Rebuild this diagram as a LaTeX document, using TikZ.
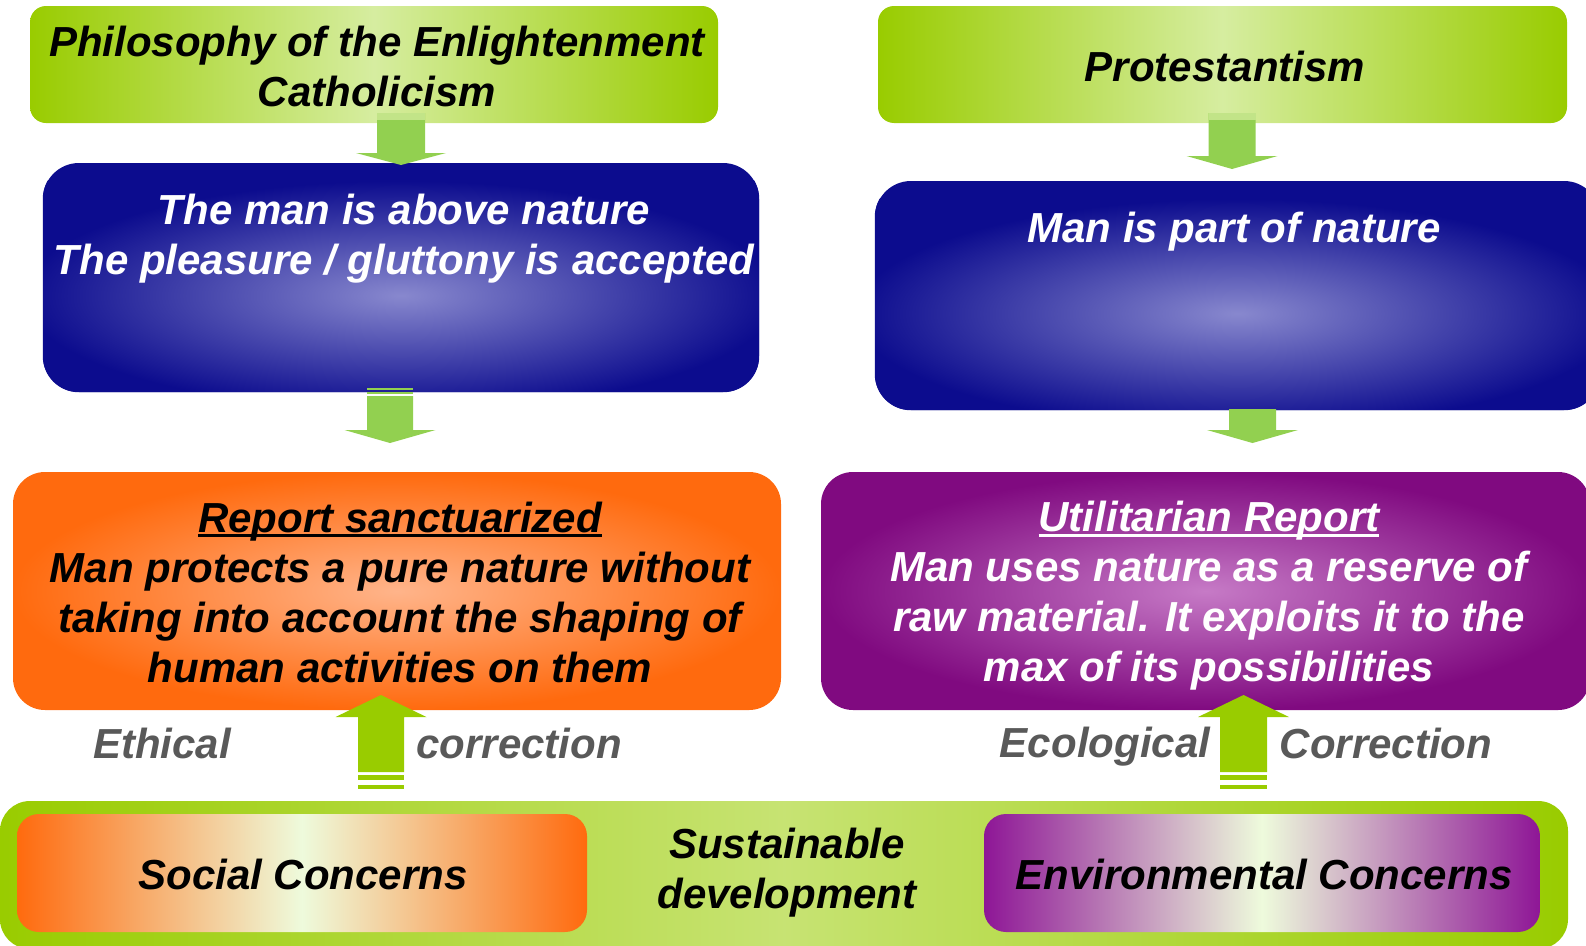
\documentclass[tikz,border=0pt]{standalone}
\usepackage{fontspec}
\setmainfont{Liberation Sans}
\usetikzlibrary{calc}

\definecolor{limeEdge}{HTML}{99CC00}
\definecolor{limeMid}{HTML}{D6EDA0}
\definecolor{arrowDown}{HTML}{92D050}
\definecolor{arrowUp}{HTML}{99CC00}
\definecolor{navyOut}{HTML}{0C0C8E}
\definecolor{navyIn}{HTML}{8888CE}
\definecolor{orangeOut}{HTML}{FF6A0E}
\definecolor{orangeIn}{HTML}{FFB48A}
\definecolor{plumOut}{HTML}{800A80}
\definecolor{plumIn}{HTML}{C67AC6}
\definecolor{paleMid}{HTML}{EEFBDC}
\definecolor{envEdge}{HTML}{8E1696}
\definecolor{labelGray}{HTML}{595959}

% underline drawn as a rule under the box of its argument
\newcommand\ulinetext[1]{{\setbox0\hbox{#1}\rlap{\rule[-5pt]{\wd0}{2.6pt}}\box0}}

% block arrow pointing down: x, shaft half width, head half width, top, head base, tip, colour
\newcommand\blockdown[7]{%
  \fill[#7] (#1-#2,#4) -- (#1+#2,#4) -- (#1+#2,#5) -- (#1+#3,#5) -- (#1,#6)
    -- (#1-#3,#5) -- (#1-#2,#5) -- cycle;}
% block arrow pointing up: x, shaft half width, head half width, bottom, head base, tip, colour
\newcommand\blockup[7]{%
  \fill[#7] (#1-#2,#4) -- (#1+#2,#4) -- (#1+#2,#5) -- (#1+#3,#5) -- (#1,#6)
    -- (#1-#3,#5) -- (#1-#2,#5) -- cycle;}
% blue glow inside a panel, centred a little below its middle
\newcommand\navyglow[1]{%
  \begin{scope}
    \clip[rounded corners=36pt] (#1.south west) rectangle (#1.north east);
    \shade[inner color=navyIn, outer color=navyOut]
      ($(#1.south west)+(-20,18)$) rectangle ($(#1.north east)+(20,18)$);
  \end{scope}}

\begin{document}
\begin{tikzpicture}[x=1pt,y=-1pt,
  every node/.style={font=\bfseries\itshape\fontsize{42}{50}\selectfont, inner sep=0pt},
  panel/.style={minimum width=#1, inner sep=0pt},
  greenbox/.style={rounded corners=16pt, left color=limeEdge, right color=limeEdge, middle color=limeMid},
  bluebox/.style={rounded corners=36pt, fill=navyOut},
  orangebox/.style={rounded corners=32pt, inner color=orangeIn, outer color=orangeOut},
  plumbox/.style={rounded corners=32pt, inner color=plumIn, outer color=plumOut},
  basebox/.style={rounded corners=30pt, left color=limeEdge, right color=limeEdge, middle color=limeEdge!55!white},
  socialbox/.style={rounded corners=22pt, left color=orangeOut, right color=orangeOut, middle color=paleMid},
  envbox/.style={rounded corners=22pt, left color=envEdge, right color=envEdge, middle color=paleMid},
  darktext/.style={text=black, align=center},
  lighttext/.style={text=white, align=center},
  graytext/.style={text=labelGray}
]
\useasboundingbox (0,0) rectangle (1586,945);
\clip (0,0) rectangle (1586,945);

% ---- boxes ----
\node[greenbox, panel=688pt, minimum height=117pt] (enl) at (374,64.5) {};
\node[greenbox, panel=689pt, minimum height=117pt] (prot) at (1222.5,64.5) {};
\node[bluebox, panel=716pt, minimum height=229pt] (above) at (401,277.5) {};
\navyglow{above}
\node[bluebox, panel=725pt, minimum height=229pt] (part) at (1237.5,295.5) {};
\navyglow{part}
\node[orangebox, panel=768pt, minimum height=238pt] (sanct) at (397,591) {};
\node[plumbox, panel=769pt, minimum height=238pt] (util) at (1205.5,591) {};
\node[basebox, panel=1568pt, minimum height=148pt] (base) at (784,875) {};
\node[socialbox, panel=570pt, minimum height=118pt] (social) at (302,873) {};
\node[envbox, panel=556pt, minimum height=118pt] (env) at (1262,873) {};

% ---- arrows ----
\blockdown{401}{24}{45}{113}{153}{165}{arrowDown}
\fill[limeMid!70!arrowDown] (377,113) rectangle (425,120);
\blockdown{1232}{23.5}{45.5}{113}{156}{169}{arrowDown}
\fill[limeMid!70!arrowDown] (1208.5,113) rectangle (1255.5,120);
% left middle arrow with its two bands
\fill[arrowDown] (367,388) rectangle (413,390);
\fill[arrowDown] (367,391.5) rectangle (413,394);
\blockdown{390}{23}{45.5}{396}{430}{443}{arrowDown}
\blockdown{1252.5}{23.5}{45.5}{409}{430}{443}{arrowDown}
% upward arrows with bands
\blockup{381}{23}{45.5}{772}{717}{695}{arrowUp}
\fill[arrowUp] (358,775) rectangle (404,780);
\fill[arrowUp] (358,785) rectangle (404,789);
\blockup{1243.5}{23.5}{45.5}{772}{717}{695}{arrowUp}
\fill[arrowUp] (1220,775) rectangle (1267,780);
\fill[arrowUp] (1220,785) rectangle (1267,789);

% ---- texts ----
\node[darktext] (tEnl) at (377,66) {Philosophy of the Enlightenment\\Catholicism};
\node[darktext] (tProt) at (1225,66) {Protestantism};
\node[lighttext] (tAbove) at (404,238.5) {The man is above nature\\The pleasure / gluttony is accepted};
\node[lighttext] (tPart) at (1234,232) {Man is part of nature};
\node[darktext] (tSanct) at (400,592) {\ulinetext{Report sanctuarized}\\Man protects a pure nature without\\taking into account the shaping of\\human activities on them};
\node[lighttext] (tUtil) at (1209,596) {\ulinetext{Utilitarian Report}\\Man uses nature as a reserve of\\raw material. It exploits it to the\\max of its possibilities};
\node[graytext] (tEth) at (162,743) {Ethical};
\node[graytext] (tCorr) at (519,743) {correction};
\node[graytext] (tEco) at (1105,747) {Ecological};
\node[graytext] (tCorr2) at (1386,743) {Correction};
\node[darktext] (tSust) at (787,873) {Sustainable\\development};
\node[darktext] (tSocial) at (303,874) {Social Concerns};
\node[darktext] (tEnv) at (1264,874) {Environmental Concerns};
\end{tikzpicture}
\end{document}
